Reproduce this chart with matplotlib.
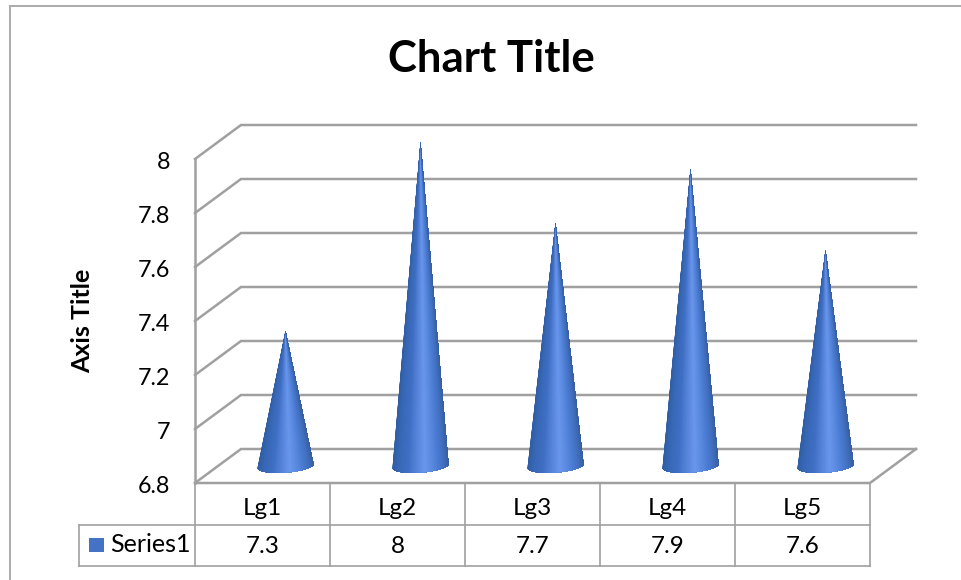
import numpy as np
import matplotlib
matplotlib.use("Agg")
import matplotlib.pyplot as plt
from matplotlib.collections import PolyCollection
from matplotlib.colors import LinearSegmentedColormap

# Chart content
categories = ["Lg1", "Lg2", "Lg3", "Lg4", "Lg5"]
series_name = "Series1"
values = [7.3, 8, 7.7, 7.9, 7.6]
value_labels = ["7.3", "8", "7.7", "7.9", "7.6"]
y_ticks = [6.8, 7.0, 7.2, 7.4, 7.6, 7.8, 8.0]
y_tick_labels = ["6.8", "7", "7.2", "7.4", "7.6", "7.8", "8"]
chart_title = "Chart Title"
axis_title = "Axis Title"

W, H = 962, 580
GRID = "#a0a0a0"
FRAME = "#ababab"
TEXT = "#000000"
FONT = "Lato"

# Plot box of the front wall, in pixels
LEFT, RIGHT, TOP, BOTTOM = 195, 870, 159, 483
ROW1, ROW2 = 524.5, 566
KEY_LEFT = 79

fig = plt.figure(figsize=(W / 100, H / 100), dpi=100, facecolor="white")
ax = fig.add_axes([LEFT / W, 1 - BOTTOM / H, (RIGHT - LEFT) / W, (BOTTOM - TOP) / H])
ax.set_xlim(0, len(categories))
ax.set_ylim(y_ticks[0], y_ticks[-1])
ax.axis("off")

# Oblique depth of the 3-D box, in data units
depth_x = 46 / 135
depth_y = 34 / 270

# Walls: each gridline runs along the side wall and then the back wall
for tick in y_ticks:
    ax.plot([0, depth_x, len(categories) + depth_x],
            [tick, tick + depth_y, tick + depth_y],
            color=GRID, lw=1.8, clip_on=False, zorder=1, solid_joinstyle="miter")
ax.plot([0, 0], [y_ticks[0], y_ticks[-1]], color=GRID, lw=1.8, clip_on=False, zorder=1)
ax.plot([0, len(categories), len(categories) + depth_x],
        [y_ticks[0], y_ticks[0], y_ticks[0] + depth_y],
        color=GRID, lw=1.8, clip_on=False, zorder=1)

# Cones: overlapping triangles from the apex to the front arc of the base,
# painted left to right so that neighbouring tones leave no seams
shade = LinearSegmentedColormap.from_list(
    "cone",
    [(0.0, "#2f5a9f"), (0.12, "#3362ac"), (0.35, "#3f6fc4"), (0.55, "#6a97ee"),
     (0.72, "#4a7bd2"), (0.9, "#3a66ae"), (1.0, "#3a5f9c")])
half_w = 28 / 135
half_h = 6.6 / 270
tilt = 2.0 / 270
arc = np.linspace(np.pi, 2 * np.pi, 121)
for i, value in enumerate(values):
    cx = i + 0.5 + depth_x / 2
    base_y = y_ticks[0] + depth_y / 2
    apex = (cx, value + depth_y / 2)
    xs = cx + half_w * np.cos(arc)
    ys = base_y + half_h * np.sin(arc) + tilt * np.cos(arc)
    fan = [[apex] + list(zip(xs[k:], ys[k:])) for k in range(len(arc) - 1)]
    tones = shade(np.linspace(0, 1, len(fan)))
    cone = PolyCollection(fan, facecolors=tones, edgecolors="none", linewidths=0,
                          zorder=3, clip_on=False)
    ax.add_collection(cone)

# Value axis labels
for tick, label in zip(y_ticks, y_tick_labels):
    ax.annotate(label, (0, tick), xytext=(-25, -3.5), textcoords="offset pixels",
                ha="right", va="center", fontsize=16.8, color=TEXT, family=FONT,
                annotation_clip=False)

# Overlay in pixel coordinates for the data table, frame and titles
ov = fig.add_axes([0, 0, 1, 1], facecolor="none")
ov.set_xlim(0, W)
ov.set_ylim(H, 0)
ov.axis("off")

# Outer chart frame
ov.plot([W, 10, 10], [6, 6, H], color=FRAME, lw=1.4, solid_joinstyle="miter")

# Data table rules
col_w = (RIGHT - LEFT) / len(categories)
col_edges = [LEFT + col_w * k for k in range(len(categories) + 1)]
for x in col_edges:
    ov.plot([x, x], [BOTTOM, ROW2], color=GRID, lw=1.2, zorder=1)
ov.plot([KEY_LEFT, RIGHT], [ROW1, ROW1], color=GRID, lw=1.2, zorder=1)
ov.plot([KEY_LEFT, RIGHT], [ROW2, ROW2], color=GRID, lw=1.2, zorder=1)
ov.plot([KEY_LEFT, KEY_LEFT], [ROW1, ROW2], color=GRID, lw=1.2, zorder=1)

# Data table text
for k, (cat, lab) in enumerate(zip(categories, value_labels)):
    xc = LEFT + col_w * (k + 0.5)
    ov.text(xc, (BOTTOM + ROW1) / 2 + 5, cat, ha="center", va="center",
            fontsize=17.5, color=TEXT, family=FONT)
    ov.text(xc, (ROW1 + ROW2) / 2 + 1, lab, ha="center", va="center",
            fontsize=17.5, color=TEXT, family=FONT)

# Series key in the table's first column
ov.fill([89, 104, 104, 89], [537.5, 537.5, 552, 552], color="#4472c4", lw=0)
ov.text(110, 545, series_name, ha="left", va="center", fontsize=18, color=TEXT, family=FONT)

# Titles
ov.text(491, 59, chart_title, ha="center", va="center", fontsize=31.5,
        fontweight="bold", color=TEXT, family=FONT)
ov.text(83, 321, axis_title, ha="center", va="center", rotation=90, fontsize=18,
        fontweight="bold", color=TEXT, family=FONT)

fig.savefig("out.png", dpi=100, facecolor="white")
